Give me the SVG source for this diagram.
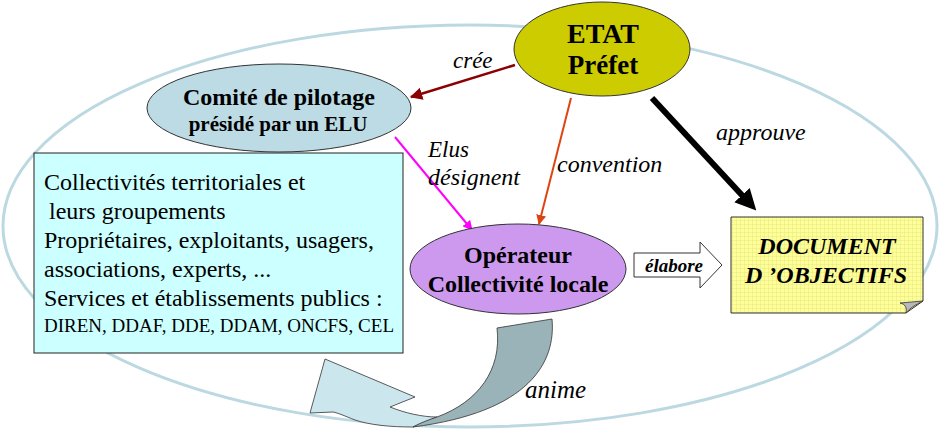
<svg xmlns="http://www.w3.org/2000/svg" width="940" height="443" viewBox="0 0 940 443">
<style>
text{font-family:"Liberation Serif","Times New Roman",serif;fill:#000}
.b{font-weight:bold}
.i{font-style:italic}
.node{stroke:#333;stroke-width:1}
</style>
<defs>
<pattern id="grid" width="4" height="4" patternUnits="userSpaceOnUse">
<rect width="4" height="4" fill="#ffff99"/>
<path d="M0 0H4M0 0V4" stroke="#e2e27a" stroke-width="0.8"/>
</pattern>
<marker id="arRed" viewBox="0 0 10 10" refX="9" refY="5" markerWidth="5" markerHeight="5" orient="auto">
<path d="M0 0L10 5L0 10z" fill="#8b0000"/>
</marker>
<marker id="arMag" viewBox="0 0 10 10" refX="9" refY="5" markerWidth="5" markerHeight="5" orient="auto">
<path d="M0 0L10 5L0 10z" fill="#ff00ff"/>
</marker>
<marker id="arOr" viewBox="0 0 10 10" refX="9" refY="5" markerWidth="5" markerHeight="5" orient="auto">
<path d="M0 0L10 5L0 10z" fill="#dd4411"/>
</marker>
<marker id="arBlk" viewBox="0 0 10 10" refX="7" refY="5" markerWidth="3.5" markerHeight="3.5" orient="auto">
<path d="M0 0L10 5L0 10z" fill="#000"/>
</marker>
</defs>
<rect width="940" height="443" fill="#fff"/>
<g id="frame">
<ellipse cx="470" cy="226" rx="467" ry="201" fill="none" stroke="#bcd9e2" stroke-width="3"/>
</g>
<g id="connectors">
<line x1="515" y1="65" x2="411" y2="97" stroke="#8b0000" stroke-width="2.5" marker-end="url(#arRed)"/>
<line x1="395" y1="137" x2="472" y2="230" stroke="#ff00ff" stroke-width="2" marker-end="url(#arMag)"/>
<line x1="571" y1="98" x2="539" y2="224" stroke="#dd4411" stroke-width="2" marker-end="url(#arOr)"/>
<line x1="652" y1="98" x2="752" y2="206" stroke="#000" stroke-width="6" marker-end="url(#arBlk)"/>
<text class="i" x="453" y="68" font-size="23">crée</text>
<text class="i" x="428" y="157" font-size="23">Elus</text>
<text class="i" x="428" y="185" font-size="24">désignent</text>
<text class="i" x="557" y="172" font-size="24">convention</text>
<text class="i" x="716" y="140" font-size="24">approuve</text>
<g id="elabore">
<path d="M634 253H700V242L722 265L700 288V277H634Z" fill="#fff" stroke="#333" stroke-width="1"/>
<text class="b i" x="674" y="272" font-size="19" text-anchor="middle">élabore</text>
</g>
<g id="anime">
<path d="M310 413L325 359L415 397L390 407C405 413 422 417 437 417L413 427C390 427 370 425 355 420C345 416 338 413 333 412Z" fill="#cce6ee" stroke="#333" stroke-width="0.8"/>
<path d="M497 328L552 319C556 362 530 412 413 427C420 423 428 420 437 417C478 402 502 370 497 328Z" fill="#9ab3b8" stroke="#333" stroke-width="0.8"/>
<text class="i" x="525" y="398" font-size="25">anime</text>
</g>
</g>
<g id="etat">
<ellipse class="node" cx="602" cy="49" rx="88" ry="47" fill="#cccc00"/>
<text class="b" x="603" y="43" font-size="28" text-anchor="middle">ETAT</text>
<text class="b" x="603" y="74" font-size="27" text-anchor="middle">Préfet</text>
</g>
<g id="comite">
<ellipse class="node" cx="279" cy="108" rx="132" ry="44" fill="#bcdbe4"/>
<text class="b" x="279" y="105" font-size="24" text-anchor="middle">Comité de pilotage</text>
<text class="b" x="278" y="131" font-size="21" text-anchor="middle">présidé par un ELU</text>
</g>
<g id="acteurs">
<rect x="34" y="153" width="369" height="200" fill="#ccffff" stroke="#222" stroke-width="1"/>
<text x="44" y="190" font-size="24">Collectivités territoriales et</text>
<text x="49" y="219" font-size="24">leurs groupements</text>
<text x="44" y="248" font-size="24">Propriétaires, exploitants, usagers,</text>
<text x="44" y="277" font-size="24">associations, experts, ...</text>
<text x="44" y="306" font-size="24">Services et établissements publics :</text>
<text x="44" y="332" font-size="19">DIREN, DDAF, DDE, DDAM, ONCFS, CEL</text>
</g>
<g id="operateur">
<ellipse class="node" cx="518" cy="269" rx="108" ry="45" fill="#cc99ee"/>
<text class="b" x="518" y="263" font-size="24" text-anchor="middle">Opérateur</text>
<text class="b" x="518" y="292" font-size="24" text-anchor="middle">Collectivité locale</text>
</g>
<g id="document">
<path d="M731 217H923V301L906 313H731Z" fill="url(#grid)" stroke="#333" stroke-width="1"/>
<path d="M906 313C907 307 905 304 900 303L923 301C915 305 910 308 906 313Z" fill="#b8b8b8" stroke="#333" stroke-width="0.8"/>
<text class="b i" x="827" y="254" font-size="24" text-anchor="middle">DOCUMENT</text>
<text class="b i" x="826" y="283" font-size="24" text-anchor="middle">D ’OBJECTIFS</text>
</g>
</svg>
